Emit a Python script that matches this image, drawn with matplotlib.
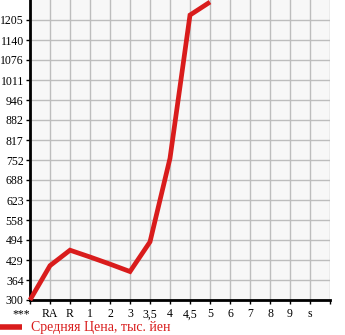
import matplotlib
matplotlib.use("Agg")
import matplotlib.pyplot as plt
import numpy as np

categories = ["***", "RA", "R", "1", "2", "3", "3,5", "4", "4,5", "5", "6", "7", "8", "9", "s"]
prices = [300, 411, 461, 439, 416, 392, 488, 758, 1221, 1263]
ytick_labels = ["300", "364", "429", "494", "558", "623", "688", "752", "817",
                "882", "946", "1011", "1076", "1140", "1205"]
legend_label = "Средняя Цена, тыс. йен"

W, H = 345, 335
fig = plt.figure(figsize=(W / 100, H / 100), dpi=100)
ax = fig.add_axes([30 / W, 1 - 300 / H, 300 / W, 300 / H])
ax.set_facecolor("#f7f7f7")

yvals = [float(v) for v in ytick_labels]
step = (yvals[-1] - yvals[0]) / (len(yvals) - 1)
ax.set_ylim(yvals[0], yvals[0] + step * len(yvals))
ax.set_xlim(0, len(categories))

line, = ax.plot(range(len(prices)), prices, color="#d91c1c", lw=3.4,
                solid_joinstyle="miter", solid_capstyle="butt", zorder=3,
                clip_on=False, label=legend_label)

ax.set_yticks(yvals)
ax.set_yticklabels(ytick_labels)
ax.set_xticks(list(range(len(categories) + 1)))
ax.set_xticklabels(categories + [""])

ax.grid(True, color="#bdbdbd", lw=1)
ax.set_axisbelow(True)
for s in ["top", "right"]:
    ax.spines[s].set_visible(False)
for s in ["left", "bottom"]:
    ax.spines[s].set_linewidth(2)
    ax.spines[s].set_color("black")

for lab in ax.get_xticklabels() + ax.get_yticklabels():
    lab.set_fontfamily("Liberation Serif")
    lab.set_fontsize(8.5)
ax.tick_params(axis="both", length=3, width=1, color="black")
ax.tick_params(axis="x", pad=3)
ax.tick_params(axis="y", pad=1.5)
ax.get_xticklabels()[0].set_horizontalalignment("right")
ax.get_xticklabels()[0].set_x(0.05)

leg = fig.legend(handles=[line], loc="lower left", bbox_to_anchor=(0.0, 0.5 / H),
                 frameon=False, borderpad=0, borderaxespad=0,
                 handlelength=1.6, handletextpad=0.6,
                 prop=dict(family="Liberation Serif", size=10))
for t in leg.get_texts():
    t.set_color("#d91c1c")
leg.get_lines()[0].set_linewidth(4)

fig.savefig("out.png", dpi=100)
